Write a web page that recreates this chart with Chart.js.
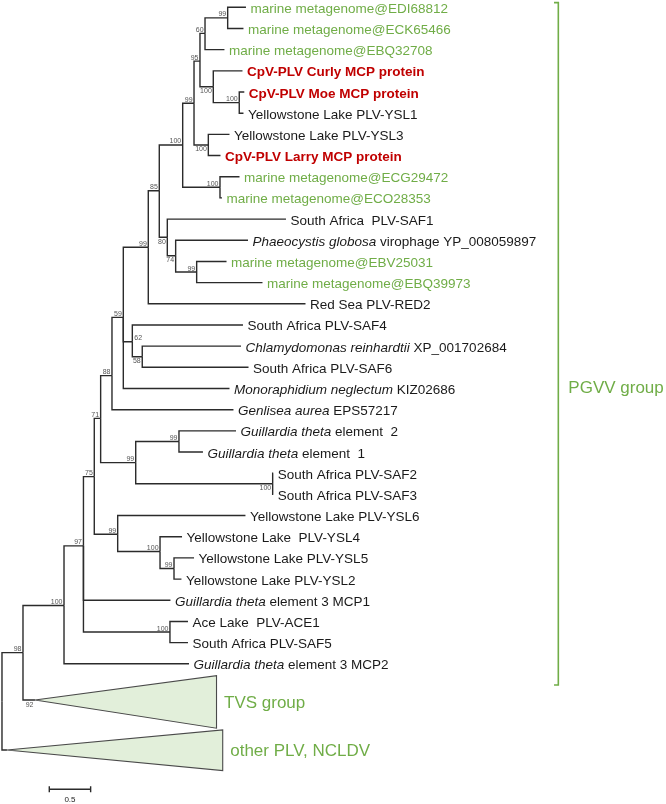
<!DOCTYPE html>
<html>
<head>
<meta charset="utf-8">
<script src="https://cdn.jsdelivr.net/npm/chart.js@4.4.1/dist/chart.umd.min.js"></script>
<style>
  html, body { margin: 0; padding: 0; background: #fff; overflow: hidden; }
</style>
</head>
<body>
<canvas id="tree" width="666" height="804"></canvas>
<script>
// Phylogenetic tree (MCP), drawn as a scatter chart with line segments.
// x = branch length from the root (subst./site), y = row number (0 = top leaf)

// ---------- leaves (one per row) ----------
const leafItalic = [
  "", "", "", "", "", "", "", "", "", "", "",
  "Phaeocystis globosa", "", "", "", "",
  "Chlamydomonas reinhardtii", "",
  "Monoraphidium neglectum", "Genlisea aurea",
  "Guillardia theta", "Guillardia theta",
  "", "", "", "", "", "",
  "Guillardia theta", "", "", "Guillardia theta"
];
const leafText = [
  "marine metagenome@EDI68812",
  "marine metagenome@ECK65466",
  "marine metagenome@EBQ32708",
  "CpV-PLV Curly MCP protein",
  "CpV-PLV Moe MCP protein",
  "Yellowstone Lake PLV-YSL1",
  "Yellowstone Lake PLV-YSL3",
  "CpV-PLV Larry MCP protein",
  "marine metagenome@ECG29472",
  "marine metagenome@ECO28353",
  "South Africa  PLV-SAF1",
  " virophage YP_008059897",
  "marine metagenome@EBV25031",
  "marine metagenome@EBQ39973",
  "Red Sea PLV-RED2",
  "South Africa PLV-SAF4",
  " XP_001702684",
  "South Africa PLV-SAF6",
  " KIZ02686",
  " EPS57217",
  " element  2",
  " element  1",
  "South Africa PLV-SAF2",
  "South Africa PLV-SAF3",
  "Yellowstone Lake PLV-YSL6",
  "Yellowstone Lake  PLV-YSL4",
  "Yellowstone Lake PLV-YSL5",
  "Yellowstone Lake PLV-YSL2",
  " element 3 MCP1",
  "Ace Lake  PLV-ACE1",
  "South Africa PLV-SAF5",
  " element 3 MCP2"
];
// g = metagenome (green), r = CpV-PLV (red bold), k = other (black)
const leafGroup = [
  "g","g","g","r","r","k","k","r","g","g","k","k","g","g","k","k",
  "k","k","k","k","k","k","k","k","k","k","k","k","k","k","k","k"
];
const leafDepth = [
  2.950, 2.920, 2.690, 2.908, 2.930, 2.920, 2.751, 2.642,
  2.872, 2.660, 3.434, 2.975, 2.715, 3.150, 3.670, 2.914,
  2.890, 2.981, 2.751, 2.799, 2.830, 2.430, 3.280, 3.280,
  2.944, 2.177, 2.322, 2.170, 2.037, 2.249, 2.249, 2.261
];
const leafParent = [
  14, 14, 13, 15, 16, 16, 17, 17, 18, 18, 19, 20, 21, 21, 8, 22,
  23, 23, 7, 6, 25, 25, 26, 26, 27, 28, 29, 29, 3, 30, 30, 2
];

// ---------- internal nodes (0 = root) ----------
const nodeDepth = [
  0.000, 0.254, 0.750, 0.985, 1.116, 1.193, 1.330, 1.467,
  1.769, 1.902, 2.185, 2.322, 2.394, 2.455, 2.729, 2.555,
  2.869, 2.495, 2.636, 1.999, 2.100, 2.354, 1.576, 1.696,
  1.617, 2.140, 3.273, 1.399, 1.911, 2.080, 2.031
];
const nodeRow = [
  32.77, 30.47, 28.25, 25.43, 22.16, 19.41, 17.39, 14.64,
  11.33, 8.66, 6.50, 4.53, 2.54, 1.23, 0.50, 3.75,
  4.50, 6.50, 8.50, 10.86, 11.73, 12.50, 15.79, 16.50,
  21.50, 20.50, 22.50, 24.88, 25.70, 26.50, 29.50
];
const nodeParent = [
  -1, 0, 1, 2, 3, 4, 5, 6, 7, 8, 9, 10, 11, 12, 13, 12,
  15, 11, 10, 9, 19, 20, 7, 22, 5, 24, 24, 4, 27, 28, 3
];
const nodeSupport = [
  "", "98", "100", "97", "75", "71", "88", "59", "99", "85", "100", "99", "95", "60", "99", "100",
  "100", "100", "100", "80", "74", "99", "62", "58", "99", "99", "100", "99", "100", "99", "100"
];
// a = above the branch, b = below, r = above and right of the node
const nodeSupportSide = [
  "", "a", "a", "a", "a", "a", "a", "a", "a", "a", "a", "a", "a", "a", "a", "b",
  "a", "b", "a", "b", "b", "a", "r", "b", "a", "a", "b", "a", "a", "a", "a"
];

// ---------- collapsed clades (triangles) ----------
const cladeNames   = ["TVS group", "other PLV, NCLDV"];
const cladeParent  = [1, 0];
const cladeApex    = [0.399, 0.060];
const cladeRow     = [32.71, 35.07];
const cladeTip     = [2.594, 2.669];
const cladeTop     = [31.56, 34.12];
const cladeBottom  = [34.04, 36.04];
const cladeSupport = ["92", ""];
const cladeLabelRow = [32.81, 35.06];

// ---------- bracket and scale bar ----------
const bracketDepth = 6.727;
const bracketTick  = 6.675;
const bracketRows  = [-0.22, 32.0];
const bracketLabel = "PGVV group";
const bracketLabelRow = 17.93;

const scaleStart = 0.572;
const scaleLength = 0.5;
const scaleRow = 36.92;

// ---------- colours and fonts ----------
const GREEN = "#70ad47";
const RED = "#c00000";
const INK = "#1a1a1a";
const BRANCH = "#2b2b2b";
const FONT = "'Liberation Sans', Arial, sans-serif";

// One small dataset per branch: parent vertical -> child horizontal
const branchSets = [];
function addEdge(parent, childDepth, childRow) {
  branchSets.push({
    data: [
      { x: nodeDepth[parent], y: nodeRow[parent] },
      { x: nodeDepth[parent], y: childRow },
      { x: childDepth, y: childRow }
    ],
    showLine: true,
    pointRadius: 0,
    borderColor: BRANCH,
    borderWidth: 1.4,
    fill: false
  });
}
nodeParent.forEach((p, k) => { if (p >= 0) addEdge(p, nodeDepth[k], nodeRow[k]); });
leafParent.forEach((p, i) => addEdge(p, leafDepth[i], i));
cladeParent.forEach((p, c) => addEdge(p, cladeApex[c], cladeRow[c]));

// Triangles for the two collapsed groups
const cladeSets = cladeNames.map((name, c) => ({
  data: [
    { x: cladeApex[c], y: cladeRow[c] },
    { x: cladeTip[c], y: cladeTop[c] },
    { x: cladeTip[c], y: cladeBottom[c] },
    { x: cladeApex[c], y: cladeRow[c] }
  ],
  showLine: true,
  pointRadius: 0,
  borderColor: "#4a4a4a",
  borderWidth: 1.1,
  backgroundColor: "#e2efda",
  fill: "shape"
}));

// Scale bar with end ticks
const tick = 0.14;
const scaleSet = {
  data: [
    { x: scaleStart, y: scaleRow - tick },
    { x: scaleStart, y: scaleRow + tick },
    { x: scaleStart, y: scaleRow },
    { x: scaleStart + scaleLength, y: scaleRow },
    { x: scaleStart + scaleLength, y: scaleRow - tick },
    { x: scaleStart + scaleLength, y: scaleRow + tick }
  ],
  showLine: true,
  pointRadius: 0,
  borderColor: BRANCH,
  borderWidth: 1.4,
  fill: false
};

// Green bracket for the PGVV group
const bracketSet = {
  data: [
    { x: bracketTick, y: bracketRows[0] },
    { x: bracketDepth, y: bracketRows[0] },
    { x: bracketDepth, y: bracketRows[1] },
    { x: bracketTick, y: bracketRows[1] }
  ],
  showLine: true,
  pointRadius: 0,
  borderColor: GREEN,
  borderWidth: 1.6,
  fill: false
};

// Draws all the text: leaf names, bootstrap values, group labels, scale label
const treeText = {
  id: "treeText",
  afterDatasetsDraw(chart) {
    const { ctx, scales: { x, y } } = chart;
    ctx.save();
    ctx.textBaseline = "alphabetic";

    // leaf names
    leafText.forEach((txt, i) => {
      let px = x.getPixelForValue(leafDepth[i]) + 4.5;
      const py = y.getPixelForValue(i) + 5.5;
      const grp = leafGroup[i];
      ctx.textAlign = "left";
      ctx.fillStyle = grp === "g" ? GREEN : grp === "r" ? RED : INK;
      if (leafItalic[i]) {
        ctx.font = "italic 13.5px " + FONT;
        ctx.fillText(leafItalic[i], px, py);
        px += ctx.measureText(leafItalic[i]).width;
      }
      ctx.font = (grp === "r" ? "bold " : "") + "13.5px " + FONT;
      ctx.fillText(txt, px, py);
    });

    // bootstrap values
    ctx.font = "7px " + FONT;
    ctx.fillStyle = "#555";
    function support(txt, depth, row, side) {
      if (!txt) return;
      const px = x.getPixelForValue(depth);
      const py = y.getPixelForValue(row);
      if (side === "r") {
        ctx.textAlign = "left";
        ctx.fillText(txt, px + 2, py - 1.5);
      } else {
        ctx.textAlign = "right";
        ctx.fillText(txt, px - 1.5, side === "b" ? py + 6.5 : py - 1.5);
      }
    }
    nodeSupport.forEach((s, k) => support(s, nodeDepth[k], nodeRow[k], nodeSupportSide[k]));
    cladeSupport.forEach((s, c) => support(s, cladeApex[c], cladeRow[c], "b"));

    // collapsed group names
    ctx.font = "17px " + FONT;
    ctx.fillStyle = GREEN;
    ctx.textAlign = "left";
    cladeNames.forEach((name, c) => {
      ctx.fillText(name, x.getPixelForValue(cladeTip[c]) + 7.5, y.getPixelForValue(cladeLabelRow[c]) + 6.1);
    });

    // bracket label
    ctx.fillText(bracketLabel, x.getPixelForValue(bracketDepth) + 10, y.getPixelForValue(bracketLabelRow) + 6.1);

    // scale bar label
    ctx.font = "8px " + FONT;
    ctx.fillStyle = INK;
    ctx.textAlign = "center";
    ctx.fillText(String(scaleLength), x.getPixelForValue(scaleStart + scaleLength / 2), y.getPixelForValue(scaleRow) + 13);

    ctx.restore();
  }
};

const ctx = document.getElementById("tree").getContext("2d");
new Chart(ctx, {
  type: "scatter",
  data: { datasets: [...branchSets, ...cladeSets, scaleSet, bracketSet] },
  options: {
    responsive: false,
    animation: false,
    layout: { padding: 0 },
    plugins: { legend: { display: false }, tooltip: { enabled: false } },
    scales: {
      // ranges chosen so the plot area covers the whole canvas
      x: { type: "linear", display: false, min: -0.024, max: 8.029 },
      y: { type: "linear", display: false, reverse: true, min: -0.345, max: 37.62 }
    }
  },
  plugins: [treeText]
});
</script>
</body>
</html>
